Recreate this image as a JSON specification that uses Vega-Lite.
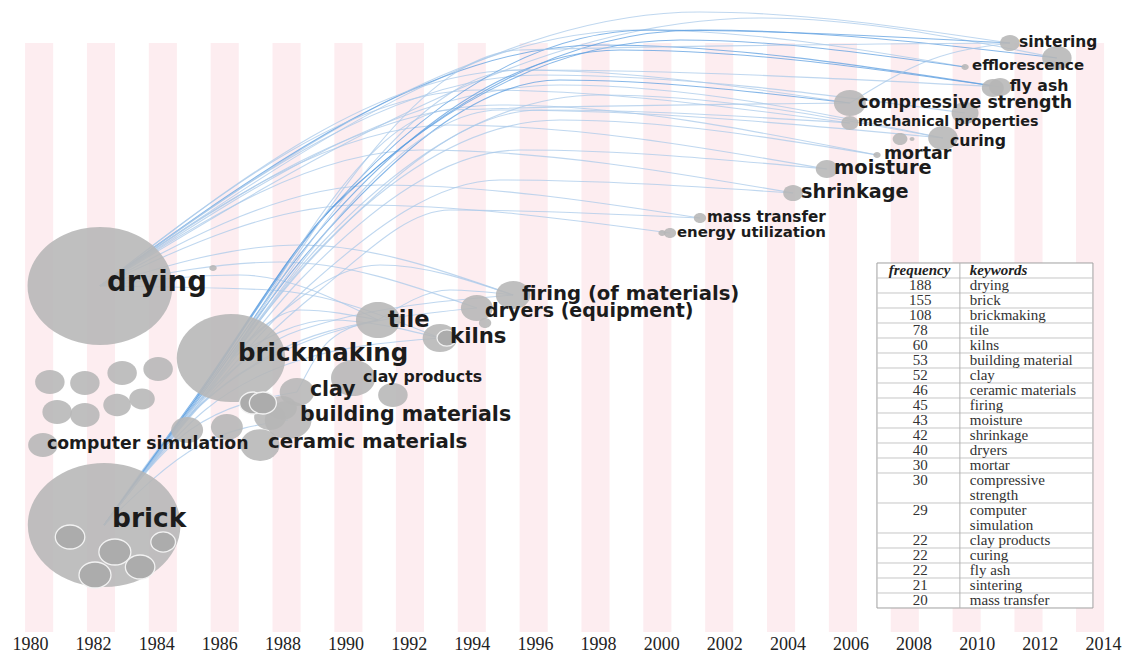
{
  "$schema": "https://vega.github.io/schema/vega-lite/v6.json",
  "width": 1126,
  "height": 632,
  "autosize": {"type": "none"},
  "padding": {"left": 0, "top": 0, "right": 0, "bottom": 26},
  "background": "white",
  "config": {"view": {"stroke": null}},
  "datasets": {
    "stripes": [
      {"a": 1979.845, "b": 1980.735}, {"a": 1981.805, "b": 1982.695}, {"a": 1983.765, "b": 1984.655},
      {"a": 1985.725, "b": 1986.615}, {"a": 1987.685, "b": 1988.575}, {"a": 1989.645, "b": 1990.535},
      {"a": 1991.595, "b": 1992.485}, {"a": 1993.555, "b": 1994.445}, {"a": 1995.515, "b": 1996.405},
      {"a": 1997.475, "b": 1998.365}, {"a": 1999.435, "b": 2000.325}, {"a": 2001.395, "b": 2002.285},
      {"a": 2003.355, "b": 2004.245}, {"a": 2005.315, "b": 2006.205}, {"a": 2007.275, "b": 2008.165},
      {"a": 2009.235, "b": 2010.125}, {"a": 2011.195, "b": 2012.085}, {"a": 2013.145, "b": 2014.035}
    ],
    "nodes": [
      {"id": "drying", "x": 1982.22, "y": 286, "w": 193},
      {"id": "brick", "x": 1982.35, "y": 525, "w": 214},
      {"id": "brickmaking", "x": 1986.37, "y": 358, "w": 108},
      {"id": "tile", "x": 1991.03, "y": 320, "w": 18},
      {"id": "kilns", "x": 1992.99, "y": 338, "w": 11},
      {"id": "dryers", "x": 1994.16, "y": 308, "w": 9.4},
      {"id": "n7", "x": 1994.42, "y": 323, "w": 1.4},
      {"id": "firing", "x": 1995.31, "y": 295, "w": 11},
      {"id": "clay", "x": 1988.46, "y": 392, "w": 11},
      {"id": "n10", "x": 1987.61, "y": 417, "w": 9.4},
      {"id": "n11", "x": 1987.99, "y": 408, "w": 8},
      {"id": "building materials", "x": 1988.18, "y": 420, "w": 20},
      {"id": "clay products", "x": 1990.24, "y": 378, "w": 18},
      {"id": "n14", "x": 1991.5, "y": 395, "w": 8},
      {"id": "ceramic materials", "x": 1987.29, "y": 445, "w": 14},
      {"id": "n16", "x": 1986.24, "y": 427, "w": 9.4},
      {"id": "n17", "x": 1984.98, "y": 430, "w": 9.4},
      {"id": "n18", "x": 1980.63, "y": 382, "w": 8},
      {"id": "n19", "x": 1981.74, "y": 383, "w": 8},
      {"id": "n20", "x": 1982.92, "y": 373, "w": 8},
      {"id": "n21", "x": 1984.06, "y": 369, "w": 8},
      {"id": "n22", "x": 1980.86, "y": 412, "w": 8},
      {"id": "n23", "x": 1981.74, "y": 415, "w": 8},
      {"id": "n24", "x": 1982.76, "y": 405, "w": 7},
      {"id": "n25", "x": 1983.55, "y": 399, "w": 6},
      {"id": "computer simulation", "x": 1980.41, "y": 445, "w": 8},
      {"id": "n27", "x": 1985.8, "y": 268, "w": 0.5},
      {"id": "sintering", "x": 2011.05, "y": 43, "w": 3.6},
      {"id": "n29", "x": 2012.54, "y": 58, "w": 8},
      {"id": "efflorescence", "x": 2009.63, "y": 67, "w": 0.5},
      {"id": "fly ash", "x": 2010.74, "y": 87, "w": 4.5},
      {"id": "n32", "x": 2010.51, "y": 88, "w": 4.5},
      {"id": "compressive strength", "x": 2005.98, "y": 103, "w": 9.4},
      {"id": "n34", "x": 2009.63, "y": 113, "w": 6.7},
      {"id": "mechanical properties", "x": 2005.98, "y": 123, "w": 2.7},
      {"id": "n36", "x": 2007.57, "y": 139, "w": 2},
      {"id": "n37", "x": 2007.95, "y": 139, "w": 0.22},
      {"id": "mortar", "x": 2006.84, "y": 155, "w": 0.5},
      {"id": "curing", "x": 2008.93, "y": 138, "w": 8},
      {"id": "moisture", "x": 2005.25, "y": 169, "w": 4.5},
      {"id": "shrinkage", "x": 2004.18, "y": 193, "w": 3.6},
      {"id": "mass transfer", "x": 2001.23, "y": 218, "w": 1.4},
      {"id": "energy utilization", "x": 2000.28, "y": 233, "w": 1.4},
      {"id": "n44", "x": 2000.03, "y": 233, "w": 0.5}
    ],
    "subnodes": [
      {"x": 1993.21, "y": 338, "w": 3.6},
      {"x": 1987.07, "y": 403, "w": 6.7},
      {"x": 1987.38, "y": 403, "w": 6.7},
      {"x": 1981.27, "y": 537, "w": 8},
      {"x": 1982.69, "y": 552, "w": 9.4},
      {"x": 1982.06, "y": 575, "w": 9.4},
      {"x": 1983.49, "y": 567, "w": 8},
      {"x": 1984.22, "y": 542, "w": 5.6}
    ],
    "labels": [
      {"t": "drying", "x": 1982.44, "y": 283, "f": 188},
      {"t": "brick", "x": 1982.6, "y": 519, "f": 155},
      {"t": "brickmaking", "x": 1986.59, "y": 354, "f": 108},
      {"t": "tile", "x": 1991.34, "y": 320, "f": 78},
      {"t": "kilns", "x": 1993.31, "y": 337, "f": 60},
      {"t": "dryers (equipment)", "x": 1994.42, "y": 311, "f": 40},
      {"t": "firing (of materials)", "x": 1995.59, "y": 294, "f": 45},
      {"t": "clay", "x": 1988.87, "y": 390, "f": 52},
      {"t": "clay products", "x": 1990.55, "y": 377, "f": 22},
      {"t": "building materials", "x": 1988.56, "y": 415, "f": 53},
      {"t": "ceramic materials", "x": 1987.54, "y": 442, "f": 46},
      {"t": "computer simulation", "x": 1980.54, "y": 444, "f": 29},
      {"t": "sintering", "x": 2011.34, "y": 42, "f": 21},
      {"t": "efflorescence", "x": 2009.85, "y": 66, "f": 19},
      {"t": "fly ash", "x": 2011.05, "y": 86, "f": 22},
      {"t": "compressive strength", "x": 2006.24, "y": 103, "f": 30},
      {"t": "mechanical properties", "x": 2006.24, "y": 122, "f": 17},
      {"t": "curing", "x": 2009.15, "y": 141, "f": 22},
      {"t": "mortar", "x": 2007.06, "y": 154, "f": 30},
      {"t": "moisture", "x": 2005.48, "y": 168, "f": 43},
      {"t": "shrinkage", "x": 2004.43, "y": 192, "f": 42},
      {"t": "mass transfer", "x": 2001.45, "y": 217, "f": 20},
      {"t": "energy utilization", "x": 2000.5, "y": 233, "f": 19}
    ],
    "edges": [
      {"e": "D1", "o": 0, "x": 1982.22, "y": 286, "w": 1}, {"e": "D1", "o": 1, "x": 2001.23, "y": 12, "w": 1}, {"e": "D1", "o": 2, "x": 2011.05, "y": 43, "w": 1},
      {"e": "D2", "o": 0, "x": 1982.22, "y": 286, "w": 1}, {"e": "D2", "o": 1, "x": 2003.13, "y": 18, "w": 1}, {"e": "D2", "o": 2, "x": 2012.54, "y": 58, "w": 1},
      {"e": "D3", "o": 0, "x": 1982.22, "y": 286, "w": 1}, {"e": "D3", "o": 1, "x": 1999.33, "y": 30, "w": 1}, {"e": "D3", "o": 2, "x": 2009.63, "y": 67, "w": 1},
      {"e": "D4", "o": 0, "x": 1982.22, "y": 286, "w": 2}, {"e": "D4", "o": 1, "x": 1998.06, "y": 45, "w": 2}, {"e": "D4", "o": 2, "x": 2010.74, "y": 87, "w": 2},
      {"e": "D5", "o": 0, "x": 1982.22, "y": 286, "w": 1}, {"e": "D5", "o": 1, "x": 1995.53, "y": 70, "w": 1}, {"e": "D5", "o": 2, "x": 2005.98, "y": 103, "w": 1},
      {"e": "D6", "o": 0, "x": 1982.22, "y": 286, "w": 1}, {"e": "D6", "o": 1, "x": 1994.26, "y": 90, "w": 1}, {"e": "D6", "o": 2, "x": 2005.98, "y": 123, "w": 1},
      {"e": "D7", "o": 0, "x": 1982.22, "y": 286, "w": 1}, {"e": "D7", "o": 1, "x": 1996.79, "y": 85, "w": 1}, {"e": "D7", "o": 2, "x": 2008.93, "y": 138, "w": 1},
      {"e": "D8", "o": 0, "x": 1982.22, "y": 286, "w": 1}, {"e": "D8", "o": 1, "x": 1994.89, "y": 105, "w": 1}, {"e": "D8", "o": 2, "x": 2006.84, "y": 155, "w": 1},
      {"e": "D9", "o": 0, "x": 1982.22, "y": 286, "w": 1}, {"e": "D9", "o": 1, "x": 1993.31, "y": 125, "w": 1}, {"e": "D9", "o": 2, "x": 2005.25, "y": 169, "w": 1},
      {"e": "D10", "o": 0, "x": 1982.22, "y": 286, "w": 1}, {"e": "D10", "o": 1, "x": 1992.36, "y": 150, "w": 1}, {"e": "D10", "o": 2, "x": 2004.18, "y": 193, "w": 1},
      {"e": "D11", "o": 0, "x": 1982.22, "y": 286, "w": 1}, {"e": "D11", "o": 1, "x": 1991.09, "y": 185, "w": 1}, {"e": "D11", "o": 2, "x": 2001.23, "y": 218, "w": 1},
      {"e": "D12", "o": 0, "x": 1982.22, "y": 286, "w": 1}, {"e": "D12", "o": 1, "x": 1990.46, "y": 205, "w": 1}, {"e": "D12", "o": 2, "x": 2000.28, "y": 233, "w": 1},
      {"e": "D13", "o": 0, "x": 1982.22, "y": 286, "w": 1}, {"e": "D13", "o": 1, "x": 1988.56, "y": 245, "w": 1}, {"e": "D13", "o": 2, "x": 1995.31, "y": 295, "w": 1},
      {"e": "D14", "o": 0, "x": 1982.22, "y": 286, "w": 1}, {"e": "D14", "o": 1, "x": 1987.92, "y": 262, "w": 1}, {"e": "D14", "o": 2, "x": 1994.16, "y": 308, "w": 1},
      {"e": "D15", "o": 0, "x": 1982.22, "y": 286, "w": 1}, {"e": "D15", "o": 1, "x": 1986.65, "y": 275, "w": 1}, {"e": "D15", "o": 2, "x": 1991.03, "y": 320, "w": 1},
      {"e": "D16", "o": 0, "x": 1982.22, "y": 286, "w": 1}, {"e": "D16", "o": 1, "x": 1996.16, "y": 75, "w": 1}, {"e": "D16", "o": 2, "x": 2009.63, "y": 113, "w": 1},
      {"e": "D17", "o": 0, "x": 1982.22, "y": 286, "w": 1}, {"e": "D17", "o": 1, "x": 1987.61, "y": 290, "w": 1}, {"e": "D17", "o": 2, "x": 1992.99, "y": 338, "w": 1},
      {"e": "B1", "o": 0, "x": 1982.35, "y": 525, "w": 2}, {"e": "B1", "o": 1, "x": 1985.23, "y": 400, "w": 2}, {"e": "B1", "o": 2, "x": 1989.51, "y": 210, "w": 2}, {"e": "B1", "o": 3, "x": 1999.65, "y": 30, "w": 2}, {"e": "B1", "o": 4, "x": 2011.05, "y": 43, "w": 2},
      {"e": "B2", "o": 0, "x": 1982.35, "y": 525, "w": 2}, {"e": "B2", "o": 1, "x": 1985.23, "y": 402, "w": 2}, {"e": "B2", "o": 2, "x": 1989.19, "y": 230, "w": 2}, {"e": "B2", "o": 3, "x": 1998.7, "y": 50, "w": 2}, {"e": "B2", "o": 4, "x": 2010.74, "y": 87, "w": 2},
      {"e": "B3", "o": 0, "x": 1982.35, "y": 525, "w": 2}, {"e": "B3", "o": 1, "x": 1985.32, "y": 400, "w": 2}, {"e": "B3", "o": 2, "x": 1988.87, "y": 250, "w": 2}, {"e": "B3", "o": 3, "x": 1996.79, "y": 80, "w": 2}, {"e": "B3", "o": 4, "x": 2005.98, "y": 103, "w": 2},
      {"e": "B4", "o": 0, "x": 1982.35, "y": 525, "w": 1}, {"e": "B4", "o": 1, "x": 1985.39, "y": 400, "w": 1}, {"e": "B4", "o": 2, "x": 1989.19, "y": 245, "w": 1}, {"e": "B4", "o": 3, "x": 1998.06, "y": 95, "w": 1}, {"e": "B4", "o": 4, "x": 2008.93, "y": 138, "w": 1},
      {"e": "B5", "o": 0, "x": 1982.35, "y": 525, "w": 2}, {"e": "B5", "o": 1, "x": 1985.23, "y": 398, "w": 2}, {"e": "B5", "o": 2, "x": 1989.82, "y": 200, "w": 2}, {"e": "B5", "o": 3, "x": 2000.6, "y": 40, "w": 2}, {"e": "B5", "o": 4, "x": 2009.63, "y": 67, "w": 2},
      {"e": "B6", "o": 0, "x": 1982.35, "y": 525, "w": 1}, {"e": "B6", "o": 1, "x": 1985.39, "y": 402, "w": 1}, {"e": "B6", "o": 2, "x": 1988.56, "y": 270, "w": 1}, {"e": "B6", "o": 3, "x": 1996.79, "y": 120, "w": 1}, {"e": "B6", "o": 4, "x": 2006.84, "y": 155, "w": 1},
      {"e": "B7", "o": 0, "x": 1982.35, "y": 525, "w": 1}, {"e": "B7", "o": 1, "x": 1985.45, "y": 400, "w": 1}, {"e": "B7", "o": 2, "x": 1988.56, "y": 280, "w": 1}, {"e": "B7", "o": 3, "x": 1995.53, "y": 150, "w": 1}, {"e": "B7", "o": 4, "x": 2005.25, "y": 169, "w": 1},
      {"e": "B8", "o": 0, "x": 1982.35, "y": 525, "w": 1}, {"e": "B8", "o": 1, "x": 1985.55, "y": 398, "w": 1}, {"e": "B8", "o": 2, "x": 1988.87, "y": 285, "w": 1}, {"e": "B8", "o": 3, "x": 1994.89, "y": 180, "w": 1}, {"e": "B8", "o": 4, "x": 2004.18, "y": 193, "w": 1},
      {"e": "B9", "o": 0, "x": 1982.35, "y": 525, "w": 1}, {"e": "B9", "o": 1, "x": 1985.39, "y": 405, "w": 1}, {"e": "B9", "o": 2, "x": 1987.92, "y": 350, "w": 1}, {"e": "B9", "o": 3, "x": 1991.03, "y": 320, "w": 1},
      {"e": "B10", "o": 0, "x": 1982.35, "y": 525, "w": 1}, {"e": "B10", "o": 1, "x": 1985.55, "y": 410, "w": 1}, {"e": "B10", "o": 2, "x": 1988.56, "y": 360, "w": 1}, {"e": "B10", "o": 3, "x": 1992.99, "y": 338, "w": 1},
      {"e": "B11", "o": 0, "x": 1982.35, "y": 525, "w": 1}, {"e": "B11", "o": 1, "x": 1985.39, "y": 400, "w": 1}, {"e": "B11", "o": 2, "x": 1988.56, "y": 330, "w": 1}, {"e": "B11", "o": 3, "x": 1995.31, "y": 295, "w": 1},
      {"e": "B12", "o": 0, "x": 1982.35, "y": 525, "w": 1}, {"e": "B12", "o": 1, "x": 1985.45, "y": 404, "w": 1}, {"e": "B12", "o": 2, "x": 1988.87, "y": 340, "w": 1}, {"e": "B12", "o": 3, "x": 1994.16, "y": 308, "w": 1},
      {"e": "B13", "o": 0, "x": 1982.35, "y": 525, "w": 1}, {"e": "B13", "o": 1, "x": 1985.07, "y": 430, "w": 1}, {"e": "B13", "o": 2, "x": 1988.46, "y": 392, "w": 1},
      {"e": "B14", "o": 0, "x": 1982.35, "y": 525, "w": 1}, {"e": "B14", "o": 1, "x": 1985.32, "y": 402, "w": 1}, {"e": "B14", "o": 2, "x": 1989.03, "y": 255, "w": 1}, {"e": "B14", "o": 3, "x": 1996.16, "y": 110, "w": 1}, {"e": "B14", "o": 4, "x": 2005.98, "y": 123, "w": 1},
      {"e": "B15", "o": 0, "x": 1982.35, "y": 525, "w": 2}, {"e": "B15", "o": 1, "x": 1985.23, "y": 400, "w": 2}, {"e": "B15", "o": 2, "x": 1989.67, "y": 205, "w": 2}, {"e": "B15", "o": 3, "x": 2001.23, "y": 30, "w": 2}, {"e": "B15", "o": 4, "x": 2012.54, "y": 58, "w": 2},
      {"e": "B16", "o": 0, "x": 1982.35, "y": 525, "w": 1}, {"e": "B16", "o": 1, "x": 1985.39, "y": 445, "w": 1}, {"e": "B16", "o": 2, "x": 1988.18, "y": 420, "w": 1},
      {"e": "B17", "o": 0, "x": 1982.35, "y": 525, "w": 1}, {"e": "B17", "o": 1, "x": 1985.55, "y": 400, "w": 1}, {"e": "B17", "o": 2, "x": 1989.19, "y": 290, "w": 1}, {"e": "B17", "o": 3, "x": 1993.31, "y": 210, "w": 1}, {"e": "B17", "o": 4, "x": 2001.23, "y": 218, "w": 1},
      {"e": "M1", "o": 0, "x": 1986.37, "y": 358, "w": 1}, {"e": "M1", "o": 1, "x": 1993.31, "y": 110, "w": 1}, {"e": "M1", "o": 2, "x": 2005.98, "y": 103, "w": 1},
      {"e": "M2", "o": 0, "x": 1986.37, "y": 358, "w": 1}, {"e": "M2", "o": 1, "x": 1995.53, "y": 50, "w": 1}, {"e": "M2", "o": 2, "x": 2011.05, "y": 43, "w": 1},
      {"e": "M3", "o": 0, "x": 1986.37, "y": 358, "w": 1}, {"e": "M3", "o": 1, "x": 1988.56, "y": 310, "w": 1}, {"e": "M3", "o": 2, "x": 1991.03, "y": 320, "w": 1},
      {"e": "M4", "o": 0, "x": 1986.37, "y": 358, "w": 1}, {"e": "M4", "o": 1, "x": 1991.09, "y": 265, "w": 1}, {"e": "M4", "o": 2, "x": 1995.31, "y": 295, "w": 1},
      {"e": "M5", "o": 0, "x": 1986.37, "y": 358, "w": 1}, {"e": "M5", "o": 1, "x": 1989.51, "y": 320, "w": 1}, {"e": "M5", "o": 2, "x": 1992.99, "y": 338, "w": 1},
      {"e": "M6", "o": 0, "x": 1986.37, "y": 358, "w": 1}, {"e": "M6", "o": 1, "x": 1994.89, "y": 110, "w": 1}, {"e": "M6", "o": 2, "x": 2008.93, "y": 138, "w": 1},
      {"e": "M7", "o": 0, "x": 1986.37, "y": 358, "w": 1}, {"e": "M7", "o": 1, "x": 1995.53, "y": 70, "w": 1}, {"e": "M7", "o": 2, "x": 2010.74, "y": 87, "w": 1},
      {"e": "O1", "o": 0, "x": 2005.98, "y": 103, "w": 1}, {"e": "O1", "o": 1, "x": 2008.52, "y": 60, "w": 1}, {"e": "O1", "o": 2, "x": 2011.05, "y": 43, "w": 1},
      {"e": "O2", "o": 0, "x": 1991.03, "y": 320, "w": 1}, {"e": "O2", "o": 1, "x": 1993.31, "y": 290, "w": 1}, {"e": "O2", "o": 2, "x": 1995.31, "y": 295, "w": 1},
      {"e": "O3", "o": 0, "x": 1988.46, "y": 392, "w": 1}, {"e": "O3", "o": 1, "x": 1989.51, "y": 340, "w": 1}, {"e": "O3", "o": 2, "x": 1991.03, "y": 320, "w": 1}
    ],
    "table": [
      {"r": 1, "f": 188, "k": "drying"}, {"r": 2, "f": 155, "k": "brick"}, {"r": 3, "f": 108, "k": "brickmaking"},
      {"r": 4, "f": 78, "k": "tile"}, {"r": 5, "f": 60, "k": "kilns"}, {"r": 6, "f": 53, "k": "building material"},
      {"r": 7, "f": 52, "k": "clay"}, {"r": 8, "f": 46, "k": "ceramic materials"}, {"r": 9, "f": 45, "k": "firing"},
      {"r": 10, "f": 43, "k": "moisture"}, {"r": 11, "f": 42, "k": "shrinkage"}, {"r": 12, "f": 40, "k": "dryers"},
      {"r": 13, "f": 30, "k": "mortar"}, {"r": 14, "f": 30, "k": "compressive"}, {"r": 15, "f": null, "k": "strength"},
      {"r": 16, "f": 29, "k": "computer"}, {"r": 17, "f": null, "k": "simulation"}, {"r": 18, "f": 22, "k": "clay products"},
      {"r": 19, "f": 22, "k": "curing"}, {"r": 20, "f": 22, "k": "fly ash"}, {"r": 21, "f": 21, "k": "sintering"},
      {"r": 22, "f": 20, "k": "mass transfer"}
    ],
    "tableLines": [
      {"b": 0.5}, {"b": 1.5}, {"b": 2.5}, {"b": 3.5}, {"b": 4.5}, {"b": 5.5}, {"b": 6.5}, {"b": 7.5},
      {"b": 8.5}, {"b": 9.5}, {"b": 10.5}, {"b": 11.5}, {"b": 12.5}, {"b": 13.5}, {"b": 15.5}, {"b": 17.5},
      {"b": 18.5}, {"b": 19.5}, {"b": 20.5}, {"b": 21.5}
    ]
  },
  "layer": [
    {
      "layer": [
        {
          "data": {"name": "stripes"},
          "mark": {"type": "rect", "color": "#fdedf0"},
          "encoding": {
            "x": {"field": "a", "type": "quantitative", "scale": {"domain": [1979.05, 2014.73], "nice": false, "zero": false},
              "axis": {"values": [1980, 1982, 1984, 1986, 1988, 1990, 1992, 1994, 1996, 1998, 2000, 2002, 2004, 2006, 2008, 2010, 2012, 2014],
                "format": "d", "labelFont": "Liberation Serif", "labelFontSize": 18, "labelColor": "#222222", "domain": false, "ticks": false,
                "grid": false, "labelPadding": 3, "title": null, "labelFlush": false, "labelOverlap": false}},
            "x2": {"field": "b"},
            "y": {"datum": 43, "type": "quantitative", "scale": {"domain": [0, 632], "reverse": true, "nice": false, "zero": false}, "axis": null},
            "y2": {"datum": 632}
          }
        },
        {
          "data": {"name": "edges"},
          "mark": {"type": "line", "interpolate": "monotone", "strokeWidth": 1.1, "opacity": 0.75},
          "encoding": {
            "x": {"field": "x", "type": "quantitative", "scale": {"domain": [1979.05, 2014.73], "nice": false, "zero": false}},
            "y": {"field": "y", "type": "quantitative", "scale": {"domain": [0, 632], "reverse": true, "nice": false, "zero": false}, "axis": null},
            "detail": {"field": "e"},
            "order": {"field": "o", "type": "quantitative"},
            "color": {"field": "w", "type": "ordinal", "scale": {"domain": [1, 2], "range": ["#a9c9ea", "#5d9fe0"]}, "legend": null}
          }
        },
        {
          "data": {"name": "nodes"},
          "mark": {"type": "point", "shape": "M-1.23,0C-1.23,-0.552,-0.679,-1,0,-1C0.679,-1,1.23,-0.552,1.23,0C1.23,0.552,0.679,1,0,1C-0.679,1,-1.23,0.552,-1.23,0Z",
            "filled": true, "color": "#b6b6b6", "opacity": 0.88, "strokeWidth": 0},
          "encoding": {
            "x": {"field": "x", "type": "quantitative", "scale": {"domain": [1979.05, 2014.73], "nice": false, "zero": false}},
            "y": {"field": "y", "type": "quantitative", "scale": {"domain": [0, 632], "reverse": true, "nice": false, "zero": false}, "axis": null},
            "size": {"field": "w", "type": "quantitative", "scale": {"type": "linear", "domain": [0, 200], "range": [0, 14400]}, "legend": null}
          }
        },
        {
          "data": {"name": "subnodes"},
          "mark": {"type": "point", "shape": "M-1.23,0C-1.23,-0.552,-0.679,-1,0,-1C0.679,-1,1.23,-0.552,1.23,0C1.23,0.552,0.679,1,0,1C-0.679,1,-1.23,0.552,-1.23,0Z",
            "filled": true, "fill": "#acacac", "stroke": "#f2f2f2", "strokeWidth": 1.3, "opacity": 1},
          "encoding": {
            "x": {"field": "x", "type": "quantitative", "scale": {"domain": [1979.05, 2014.73], "nice": false, "zero": false}},
            "y": {"field": "y", "type": "quantitative", "scale": {"domain": [0, 632], "reverse": true, "nice": false, "zero": false}, "axis": null},
            "size": {"field": "w", "type": "quantitative", "scale": {"type": "linear", "domain": [0, 200], "range": [0, 14400]}, "legend": null}
          }
        },
        {
          "data": {"name": "labels"},
          "mark": {"type": "text", "font": "DejaVu Sans", "fontWeight": "bold", "align": "left", "baseline": "middle", "color": "#1c1c1c"},
          "encoding": {
            "x": {"field": "x", "type": "quantitative", "scale": {"domain": [1979.05, 2014.73], "nice": false, "zero": false}},
            "y": {"field": "y", "type": "quantitative", "scale": {"domain": [0, 632], "reverse": true, "nice": false, "zero": false}, "axis": null},
            "text": {"field": "t"},
            "size": {"field": "f", "type": "quantitative", "scale": {"type": "log", "domain": [16, 188], "range": [14, 27.5]}, "legend": null}
          }
        }
      ],
      "resolve": {"scale": {"size": "independent"}}
    },
    {
      "layer": [
        {
          "data": {"values": [{}]},
          "mark": {"type": "rect", "fill": "white", "stroke": "#a0a0a0", "strokeWidth": 1},
          "encoding": {
            "x": {"datum": 0, "type": "quantitative", "scale": {"domain": [-4.06, 1.153], "nice": false, "zero": false}, "axis": null},
            "x2": {"datum": 1},
            "y": {"datum": -0.5, "type": "quantitative", "scale": {"domain": [-18.033, 24.1], "reverse": true, "nice": false, "zero": false}, "axis": null},
            "y2": {"datum": 22.5}
          }
        },
        {
          "data": {"name": "tableLines"},
          "mark": {"type": "rule", "stroke": "#c6c6c6", "strokeWidth": 1},
          "encoding": {
            "x": {"datum": 0, "type": "quantitative", "scale": {"domain": [-4.06, 1.153], "nice": false, "zero": false}, "axis": null},
            "x2": {"datum": 1},
            "y": {"field": "b", "type": "quantitative", "scale": {"domain": [-18.033, 24.1], "reverse": true, "nice": false, "zero": false}, "axis": null}
          }
        },
        {
          "data": {"values": [{}]},
          "mark": {"type": "rule", "stroke": "#b4b4b4", "strokeWidth": 1},
          "encoding": {
            "x": {"datum": 0.384, "type": "quantitative", "scale": {"domain": [-4.06, 1.153], "nice": false, "zero": false}, "axis": null},
            "y": {"datum": -0.5, "type": "quantitative", "scale": {"domain": [-18.033, 24.1], "reverse": true, "nice": false, "zero": false}, "axis": null},
            "y2": {"datum": 22.5}
          }
        },
        {
          "data": {"values": [{"h": "frequency", "r": 0}]},
          "mark": {"type": "text", "font": "Liberation Serif", "fontSize": 15, "fontStyle": "italic", "fontWeight": "bold", "align": "center", "baseline": "middle", "color": "#222222"},
          "encoding": {
            "x": {"datum": 0.197, "type": "quantitative", "scale": {"domain": [-4.06, 1.153], "nice": false, "zero": false}, "axis": null},
            "y": {"field": "r", "type": "quantitative", "scale": {"domain": [-18.033, 24.1], "reverse": true, "nice": false, "zero": false}, "axis": null},
            "text": {"field": "h"}
          }
        },
        {
          "data": {"values": [{"h": "keywords", "r": 0}]},
          "mark": {"type": "text", "font": "Liberation Serif", "fontSize": 15, "fontStyle": "italic", "fontWeight": "bold", "align": "left", "baseline": "middle", "color": "#222222"},
          "encoding": {
            "x": {"datum": 0.43, "type": "quantitative", "scale": {"domain": [-4.06, 1.153], "nice": false, "zero": false}, "axis": null},
            "y": {"field": "r", "type": "quantitative", "scale": {"domain": [-18.033, 24.1], "reverse": true, "nice": false, "zero": false}, "axis": null},
            "text": {"field": "h"}
          }
        },
        {
          "data": {"name": "table"},
          "transform": [{"filter": "isValid(datum.f)"}],
          "mark": {"type": "text", "font": "Liberation Serif", "fontSize": 15, "align": "center", "baseline": "middle", "color": "#333333"},
          "encoding": {
            "x": {"datum": 0.2, "type": "quantitative", "scale": {"domain": [-4.06, 1.153], "nice": false, "zero": false}, "axis": null},
            "y": {"field": "r", "type": "quantitative", "scale": {"domain": [-18.033, 24.1], "reverse": true, "nice": false, "zero": false}, "axis": null},
            "text": {"field": "f", "type": "quantitative", "format": "d"}
          }
        },
        {
          "data": {"name": "table"},
          "mark": {"type": "text", "font": "Liberation Serif", "fontSize": 15, "align": "left", "baseline": "middle", "color": "#333333"},
          "encoding": {
            "x": {"datum": 0.43, "type": "quantitative", "scale": {"domain": [-4.06, 1.153], "nice": false, "zero": false}, "axis": null},
            "y": {"field": "r", "type": "quantitative", "scale": {"domain": [-18.033, 24.1], "reverse": true, "nice": false, "zero": false}, "axis": null},
            "text": {"field": "k"}
          }
        }
      ]
    }
  ],
  "resolve": {"scale": {"x": "independent", "y": "independent"}}
}
